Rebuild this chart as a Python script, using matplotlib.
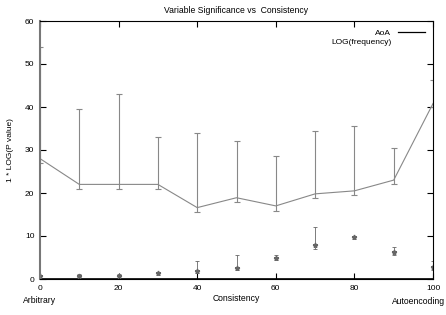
import numpy as np
import matplotlib
matplotlib.use("Agg")
import matplotlib.pyplot as plt
from matplotlib.lines import Line2D

plt.rcParams['font.family'] = ['Liberation Sans', 'DejaVu Sans']

# AoA series (line with asymmetric error bars)
consistency = [0, 10, 20, 30, 40, 50, 60, 70, 80, 90, 100]
aoa = [28, 22, 22, 22, 16.6, 18.9, 17, 19.8, 20.5, 23, 40.8]
aoa_low = [27, 21, 21, 21, 15.6, 17.9, 15.9, 18.8, 19.5, 22, 40]
aoa_high = [54, 39.5, 43, 33, 34, 32, 28.5, 34.5, 35.5, 30.5, 46.3]

# LOG(frequency) series (points with small error bars)
logfreq = [0.6, 0.8, 0.7, 1.3, 1.8, 2.5, 5, 7.8, 9.7, 6.2, 2.8]
logfreq_low = [0.2, 0.5, 0.3, 1.0, 1.3, 2.0, 4.5, 7.0, 9.3, 5.6, 2.0]
logfreq_high = [1.0, 1.2, 1.1, 1.7, 4.2, 5.6, 5.6, 12.2, 10.1, 7.4, 4.2]

xticks = [0, 20, 40, 60, 80, 100]
yticks = [0, 10, 20, 30, 40, 50, 60]

fig = plt.figure(figsize=(4.46, 3.15), dpi=100)
ax = fig.add_axes([40 / 446, 36 / 315, 393 / 446, 258 / 315])

aoa_err = [np.array(aoa) - np.array(aoa_low), np.array(aoa_high) - np.array(aoa)]
ax.errorbar(consistency, aoa, yerr=aoa_err, color='#888888', lw=0.8,
            elinewidth=0.8, capsize=2.5, capthick=0.8)

lf_err = [np.array(logfreq) - np.array(logfreq_low), np.array(logfreq_high) - np.array(logfreq)]
ax.errorbar(consistency, logfreq, yerr=lf_err, fmt='*', color='#666666', ms=3.5,
            elinewidth=0.6, capsize=1.2, capthick=0.6)

ax.axhline(0, color='black', lw=1.2)

ax.set_xlim(0, 100)
ax.set_ylim(0, 60)
ax.set_xticks(xticks)
ax.set_yticks(yticks)
ax.tick_params(direction='in', length=4, width=0.8, labelsize=6, pad=4,
               top=True, right=True)
ax.spines['left'].set_color('#777777')
ax.spines['left'].set_linewidth(1.5)
for s in ['top', 'right', 'bottom']:
    ax.spines[s].set_linewidth(0.8)

ax.set_title('Variable Significance vs  Consistency', fontsize=6.2, pad=6)
ax.set_ylabel('1 * LOG(P value)', fontsize=6, labelpad=8)
ax.set_xlabel('Consistency', fontsize=6.2, labelpad=2)
ax.text(0, -0.065, 'Arbitrary', transform=ax.transAxes, fontsize=6.2,
        ha='center', va='top')
fig.text(0.999, 0.03, 'Autoencoding', fontsize=6.2, ha='right', va='bottom')

handles = [Line2D([], [], color='black', lw=0.9),
           Line2D([], [], color='none')]
leg = ax.legend(handles, ['AoA', 'LOG(frequency)'], loc='upper right',
                frameon=False, fontsize=6, markerfirst=False,
                handlelength=3.2, handletextpad=0.8, labelspacing=0.1,
                borderaxespad=0.6, alignment='right')
for t in leg.get_texts():
    t.set_ha('right')

fig.savefig('out.png', dpi=100)
